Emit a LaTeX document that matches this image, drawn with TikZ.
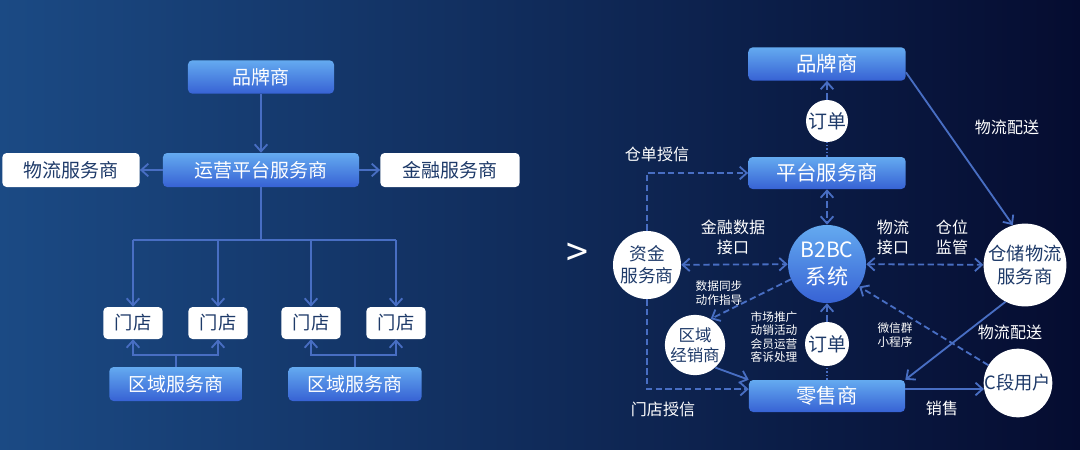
\documentclass[tikz,border=0pt]{standalone}
\usepackage{fontspec}
\setmainfont{Noto Sans CJK SC}
\usepackage{tikz}
\usetikzlibrary{arrows.meta,positioning}

\definecolor{bgleft}{RGB}{27,74,132}
\definecolor{bgright}{RGB}{5,12,48}
\definecolor{boxtop}{RGB}{100,170,240}
\definecolor{boxbot}{RGB}{55,98,212}
\definecolor{linkblue}{RGB}{72,110,195}
\definecolor{inkblue}{RGB}{30,58,105}

\begin{document}
\begin{tikzpicture}[
  x=0.025cm, y=-0.025cm,
  bluebox/.style={rounded corners=3pt, top color=boxtop, bottom color=boxbot,
                  text=white, inner sep=0pt, font=\fontsize{13.5}{16}\selectfont},
  whitebox/.style={rounded corners=3pt, fill=white, text=inkblue,
                   inner sep=0pt, font=\fontsize{13.5}{16}\selectfont},
  ball/.style={circle, fill=white, text=inkblue, inner sep=0pt, align=center,
               font=\fontsize{12.6}{15.6}\selectfont},
  link/.style={draw=linkblue, line width=1.3pt},
  dlink/.style={link, dash pattern=on 4.5pt off 2.5pt},
  tag/.style={text=white, align=center, font=\fontsize{11.4}{14.2}\selectfont},
  smalltag/.style={tag, font=\fontsize{8.3}{9.5}\selectfont},
  >={Straight Barb[length=5pt,width=9pt]}
]
\shade[left color=bgleft, right color=bgright] (0,0) rectangle (1080,449);

% left: tree
\node[bluebox, minimum width=3.65cm, minimum height=0.83cm] (brand) at (261,77) {品牌商};
\node[bluebox, minimum width=4.9cm, minimum height=0.85cm] (ops) at (261,170) {运营平台服务商};
\node[whitebox, minimum width=3.43cm, minimum height=0.85cm] (logi) at (71,170) {物流服务商};
\node[whitebox, minimum width=3.48cm, minimum height=0.85cm] (fin) at (450,170) {金融服务商};
\foreach \i/\x in {1/133,2/218,3/311,4/396}
  \node[whitebox, minimum width=1.48cm, minimum height=0.8cm,
        font=\fontsize{13}{15}\selectfont] (store\i) at (\x,323) {门店};
\node[bluebox, minimum width=3.33cm, minimum height=0.85cm] (zone1) at (176,384) {区域服务商};
\node[bluebox, minimum width=3.33cm, minimum height=0.85cm] (zone2) at (355,384) {区域服务商};

\draw[link,->] (brand) -- (ops);
\draw[link,->] (ops) -- (logi);
\draw[link,->] (ops) -- (fin);
\coordinate (fork) at (261,240);
\draw[link] (ops) -- (fork);
\draw[link] (store1 |- fork) -- (store4 |- fork);
\foreach \i in {1,...,4}
  \draw[link,->] (store\i |- fork) -- (store\i);
\coordinate (join1) at (176,355);
\coordinate (join2) at (355,355);
\draw[link] (zone1) -- (join1);
\draw[link,<->] (store1) -- (store1 |- join1) -- (store2 |- join1) -- (store2);
\draw[link] (zone2) -- (join2);
\draw[link,<->] (store3) -- (store3 |- join2) -- (store4 |- join2) -- (store4);

\node[text=white, font=\fontsize{28}{28}\selectfont] (more) at (577,255) {>};

% right: B2BC
\node[bluebox, minimum width=3.93cm, minimum height=0.83cm,
      font=\fontsize{14.5}{17}\selectfont] (brand2) at (827,64) {品牌商};
\node[ball, minimum size=1.05cm, font=\fontsize{13.5}{16}\selectfont] (order1) at (827,121) {订单};
\node[bluebox, minimum width=3.93cm, minimum height=0.8cm,
      font=\fontsize{14.5}{17}\selectfont] (plat) at (827,173) {平台服务商};
\node[circle, top color=boxtop, bottom color=boxbot, text=white, inner sep=0pt,
      align=center, minimum size=1.95cm,
      font=\fontsize{15}{19}\selectfont] (b2bc) at (827,264) {B2BC\\系统};
\node[ball, minimum size=1.7cm] (fund) at (647,265) {资金\\服务商};
\node[ball, minimum size=2cm, font=\fontsize{13}{16}\selectfont] (ware) at (1025,265) {仓储物流\\服务商};
\node[ball, minimum size=1.4cm, font=\fontsize{11.7}{14}\selectfont] (dealer) at (695,345) {区域\\经销商};
\node[ball, minimum size=1.1cm, font=\fontsize{13.5}{16}\selectfont] (order2) at (827,344) {订单};
\node[ball, minimum size=1.7cm, font=\fontsize{13}{16}\selectfont] (cuser) at (1018,383) {C段用户};
\node[bluebox, minimum width=3.9cm, minimum height=0.8cm,
      font=\fontsize{14.5}{17}\selectfont] (retail) at (827,396) {零售商};

\draw[link, dash pattern=on 1pt off 1.5pt] (plat) -- (order1);
\draw[dlink,->] (order1) -- (brand2);
\draw[dlink,<->] (plat) -- (b2bc);
\draw[dlink,<->] (fund) -- (b2bc);
\draw[dlink,<->] (b2bc) -- (ware);
\draw[dlink,->] (b2bc.203) -- (dealer.59);
\draw[link, dash pattern=on 1pt off 1.5pt] (retail) -- (order2);
\draw[dlink,->] (order2) -- (b2bc);
\draw[dlink,->] (cuser.149) -- (b2bc.325);
\draw[link,->] (dealer.312) -- (retail.north west);
\draw[link,->] (ware.242) -- (retail.north east);
\draw[link,->] (cuser.190 -| retail.east) -- (cuser.190);
\draw[link,->] (brand2.-6) -- (ware.107);
\draw[dlink,->] (fund.north) |- (plat.west);
\draw[dlink,->] (fund.south) |- (retail.175);

\node[tag] (credit1) at (657,154) {仓单授信};
\node[tag] (ship1) at (1007,127) {物流配送};
\node[tag] (findata) at (733,237) {金融数据\\接口};
\node[tag] (logiapi) at (893,237) {物流\\接口};
\node[tag] (wpos) at (952,237) {仓位\\监管};
\node[smalltag] (sync) at (719,293) {数据同步\\动作指导};
\node[smalltag] (mkt) at (774,337) {市场推广\\动销活动\\会员运营\\客诉处理};
\node[smalltag] (wechat) at (895,335) {微信群\\小程序};
\node[tag] (ship2) at (1010,332) {物流配送};
\node[tag] (sale) at (942,408) {销售};
\node[tag] (credit2) at (663,409) {门店授信};
\end{tikzpicture}
\end{document}
